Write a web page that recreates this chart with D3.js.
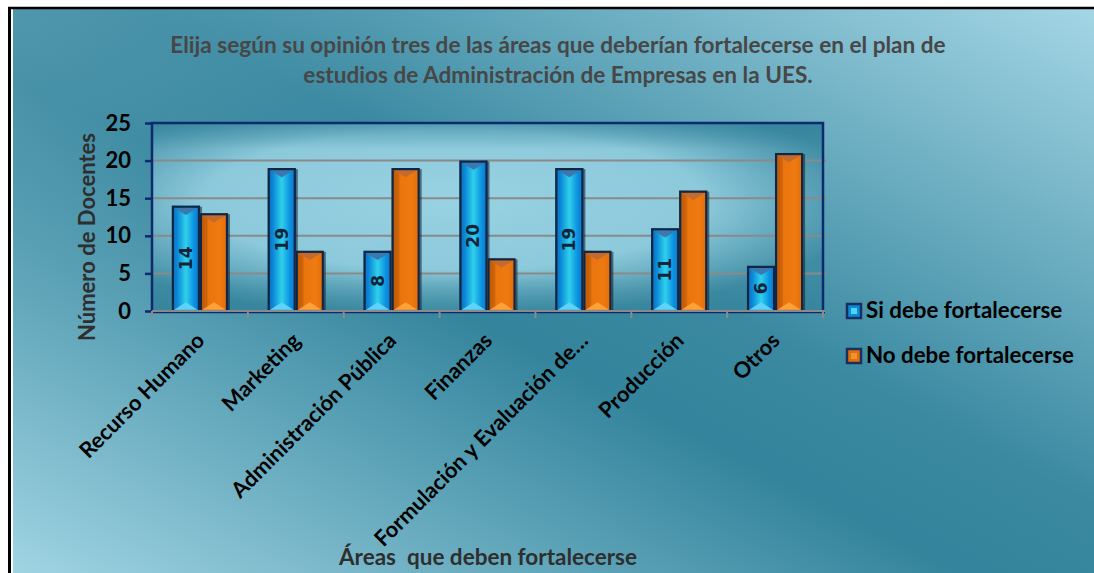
<!DOCTYPE html>
<html>
<head>
<meta charset="utf-8">
<script src="https://cdn.jsdelivr.net/npm/d3@7"></script>
<style>
  html, body { margin: 0; padding: 0; background: #fff; }
  svg { display: block; font-family: Lato, "Open Sans", sans-serif; font-weight: bold; }
</style>
</head>
<body>
<div id="chart"></div>
<script>
// Data
const categories = ["Recurso Humano", "Marketing", "Administración Pública", "Finanzas",
  "Formulación y Evaluación de…", "Producción", "Otros"];
const series = ["Si debe fortalecerse", "No debe fortalecerse"];
const siValues = [14, 19, 8, 20, 19, 11, 6];
const noValues = [13, 8, 19, 7, 8, 16, 21];
const yTicks = [0, 5, 10, 15, 20, 25];
const titleLines = ["Elija según su opinión tres de las áreas que deberían fortalecerse en el plan de",
  "estudios de Administración de Empresas en la UES."];
const yTitle = "Número de Docentes";
const xTitle = "Áreas  que deben fortalecerse";

const W = 1094, H = 573;
const margin = { top: 123, right: 271, bottom: 262, left: 152 };

const svg = d3.select("#chart").append("svg")
  .attr("width", W).attr("height", H);

const defs = svg.append("defs");

// background gradient: light top-right / bottom-left, darker diagonal band
const bg = defs.append("linearGradient").attr("id", "bg")
  .attr("x1", 0).attr("y1", 1).attr("x2", 1).attr("y2", 0);
bg.append("stop").attr("offset", 0).attr("stop-color", "#a0d4e3");
bg.append("stop").attr("offset", 0.44).attr("stop-color", "#33849c");
bg.append("stop").attr("offset", 0.56).attr("stop-color", "#3a89a1");
bg.append("stop").attr("offset", 1).attr("stop-color", "#a4d6e5");

// slight lightening towards the top-left corner
const bgTL = defs.append("radialGradient").attr("id", "bgTL")
  .attr("gradientUnits", "userSpaceOnUse")
  .attr("cx", 0).attr("cy", 0).attr("r", 380);
bgTL.append("stop").attr("offset", 0).attr("stop-color", "#6aa8bb").attr("stop-opacity", 0.5);
bgTL.append("stop").attr("offset", 1).attr("stop-color", "#6aa8bb").attr("stop-opacity", 0);

const pg = defs.append("radialGradient").attr("id", "plotbg")
  .attr("cx", "45%").attr("cy", "42%").attr("r", "62%")
  .attr("fx", "45%").attr("fy", "40%");
pg.append("stop").attr("offset", 0).attr("stop-color", "#98d2e2");
pg.append("stop").attr("offset", 0.6).attr("stop-color", "#8cc9db");
pg.append("stop").attr("offset", 1).attr("stop-color", "#3f8ca3");

const plotShade = defs.append("linearGradient").attr("id", "plotshade")
  .attr("x1", 0).attr("y1", 0).attr("x2", 0).attr("y2", 1);
plotShade.append("stop").attr("offset", 0).attr("stop-color", "#2f7f98").attr("stop-opacity", 0.55);
plotShade.append("stop").attr("offset", 0.14).attr("stop-color", "#2f7f98").attr("stop-opacity", 0);
plotShade.append("stop").attr("offset", 0.78).attr("stop-color", "#2f7f98").attr("stop-opacity", 0);
plotShade.append("stop").attr("offset", 1).attr("stop-color", "#2f7f98").attr("stop-opacity", 0.5);

function barGrad(id, stops) {
  const g = defs.append("linearGradient").attr("id", id)
    .attr("x1", 0).attr("y1", 0).attr("x2", 1).attr("y2", 0);
  stops.forEach(s => g.append("stop").attr("offset", s[0]).attr("stop-color", s[1]));
}
barGrad("gBlue", [[0, "#1766a8"], [0.18, "#0a86d8"], [0.5, "#2fd0ea"], [0.8, "#0a90e2"], [1, "#1a70b8"]]);
barGrad("gOrange", [[0, "#b85808"], [0.25, "#cf640a"], [0.3, "#ea740e"], [0.7, "#ef7a10"], [1, "#e06c0c"]]);

const colors = { "Si debe fortalecerse": "url(#gBlue)", "No debe fortalecerse": "url(#gOrange)" };
const topBevel = { "Si debe fortalecerse": "#3b78ad", "No debe fortalecerse": "#c26a30" };
const botBevel = { "Si debe fortalecerse": "#5fd2fa", "No debe fortalecerse": "#ffa23c" };

// page background and frame
svg.append("rect").attr("x", 13).attr("y", 9).attr("width", W - 13).attr("height", H - 9)
  .attr("fill", "url(#bg)");
svg.append("rect").attr("x", 13).attr("y", 9).attr("width", W - 13).attr("height", H - 9)
  .attr("fill", "url(#bgTL)");
svg.append("line").attr("x1", 9.5).attr("x2", 9.5).attr("y1", 7).attr("y2", H)
  .attr("stroke", "#000").attr("stroke-width", 3);
svg.append("line").attr("x1", 8).attr("x2", W).attr("y1", 8).attr("y2", 8)
  .attr("stroke", "#000").attr("stroke-width", 2.5);

const x0 = d3.scaleBand().domain(categories)
  .range([margin.left, W - margin.right]).paddingInner(0).paddingOuter(0);
const x1 = d3.scaleBand().domain(series)
  .range([0, x0.bandwidth()]).paddingInner(0).paddingOuter(0.71);
const y = d3.scaleLinear().domain([0, 25]).range([H - margin.bottom, margin.top]);

const left = margin.left, right = W - margin.right;

// plot area
svg.append("rect").attr("x", left).attr("y", y(25)).attr("width", right - left)
  .attr("height", y(0) - y(25)).attr("fill", "url(#plotbg)");
svg.append("rect").attr("x", left).attr("y", y(25)).attr("width", right - left)
  .attr("height", y(0) - y(25)).attr("fill", "url(#plotshade)");

// gridlines
svg.append("g")
  .selectAll("line").data(yTicks.filter(d => d > 0 && d < 25)).join("line")
  .attr("x1", left).attr("x2", right + 3)
  .attr("y1", d => y(d)).attr("y2", d => y(d))
  .attr("stroke", "#8a8a8a").attr("stroke-width", 2);

// bars
const groups = svg.append("g").selectAll("g").data(categories).join("g")
  .attr("transform", d => `translate(${x0(d)},0)`);

const barData = (c, i) => series.map(s => ({ s, v: s === series[0] ? siValues[i] : noValues[i] }));

groups.each(function (c, i) {
  const g = d3.select(this);
  barData(c, i).forEach(b => {
    const bx = x1(b.s), bw = x1.bandwidth(), by = y(b.v), bh = y(0) - y(b.v);
    // shadow
    g.append("rect").attr("x", bx + 2).attr("y", by + 1).attr("width", bw).attr("height", bh - 1)
      .attr("fill", "#0b1d33").attr("opacity", 0.55);
    g.append("rect").attr("x", bx).attr("y", by).attr("width", bw).attr("height", bh)
      .attr("fill", colors[b.s]);
    const bev = Math.min(bw / 2 - 2, bh / 2);
    g.append("path")
      .attr("d", `M${bx + 2},${by + 2}L${bx + bw - 2},${by + 2}L${bx + bw / 2},${by + 2 + bev * 0.6}Z`)
      .attr("fill", topBevel[b.s]);
    g.append("path")
      .attr("d", `M${bx + 2},${y(0) - 1}L${bx + bw - 2},${y(0) - 1}L${bx + bw / 2},${y(0) - 1 - bev * 0.65}Z`)
      .attr("fill", botBevel[b.s]);
    g.append("rect").attr("x", bx + 1).attr("y", by + 1).attr("width", bw - 2).attr("height", bh - 1)
      .attr("fill", "none").attr("stroke", "#0e2748").attr("stroke-width", 2.2);
    if (b.s === series[0]) {
      const cx = bx + bw / 2, cy = (by + y(0)) / 2;
      g.append("text")
        .attr("transform", `translate(${cx + 6},${cy}) rotate(-90)`)
        .attr("text-anchor", "middle")
        .attr("font-family", "'DejaVu Sans', sans-serif")
        .attr("font-size", 17).attr("fill", "#13243a")
        .text(b.v);
    }
  });
});

// plot frame: top, right (navy), y axis
svg.append("path")
  .attr("d", `M${left},${y(0)}V${y(25)}H${right}V${y(0)}`)
  .attr("fill", "none").attr("stroke", "#0c2a6e").attr("stroke-width", 2.5);

// y axis
const yAxis = svg.append("g").attr("transform", `translate(${left},0)`)
  .call(d3.axisLeft(y).tickValues(yTicks).tickSize(7).tickPadding(14));
yAxis.select(".domain").remove();
yAxis.selectAll(".tick line").attr("stroke", "#0c2a6e").attr("stroke-width", 2.5);
yAxis.selectAll(".tick text").attr("font-family", "Lato, sans-serif").attr("font-weight", "bold")
  .attr("font-size", 22).attr("fill", "#000");

// x axis
svg.append("line").attr("x1", left).attr("x2", right + 2).attr("y1", y(0) + 1.5).attr("y2", y(0) + 1.5)
  .attr("stroke", "#0c2a6e").attr("stroke-width", 1.5);
svg.append("line").attr("x1", left).attr("x2", right + 2).attr("y1", y(0)).attr("y2", y(0))
  .attr("stroke", "#8a8a8a").attr("stroke-width", 2);
svg.append("g").selectAll("line").data(categories.concat([null])).join("line")
  .attr("x1", (d, i) => left + i * x0.step()).attr("x2", (d, i) => left + i * x0.step())
  .attr("y1", y(0)).attr("y2", y(0) + 7)
  .attr("stroke", "#8a8a8a").attr("stroke-width", 2);

svg.append("g").selectAll("text").data(categories).join("text")
  .attr("transform", d => `translate(${x0(d) + x0.bandwidth() / 2 + 6},${y(0) + 31}) rotate(-45)`)
  .attr("text-anchor", "end")
  .attr("font-size", 21.8).attr("fill", "#000")
  .text(d => d);

// titles
svg.append("g").selectAll("text").data(titleLines).join("text")
  .attr("x", 558).attr("y", (d, i) => 53 + i * 30)
  .attr("text-anchor", "middle").attr("font-size", 22.6).attr("fill", "#474747")
  .text(d => d);

svg.append("text")
  .attr("transform", `translate(95,${(y(0) + y(25)) / 2 + 20}) rotate(-90)`)
  .attr("text-anchor", "middle").attr("font-size", 22).attr("fill", "#2e2e2e")
  .text(yTitle);

svg.append("text").attr("x", 488).attr("y", 565)
  .attr("text-anchor", "middle").attr("font-size", 22.5).attr("fill", "#2e2e2e")
  .style("white-space", "pre")
  .text(xTitle);

// legend
const legend = svg.append("g").selectAll("g").data(series).join("g")
  .attr("transform", (d, i) => `translate(846,${303 + i * 45})`);
legend.append("rect").attr("x", 1).attr("y", 1).attr("width", 14).attr("height", 14)
  .attr("fill", (d, i) => i === 0 ? "#0c8ad8" : "#e0700e")
  .attr("stroke", "#1a2f5e").attr("stroke-width", 2.5);
legend.append("rect").attr("x", 5).attr("y", 5).attr("width", 6).attr("height", 6)
  .attr("fill", (d, i) => i === 0 ? "#48d6f4" : "#f5912c");
legend.append("text").attr("x", 20).attr("y", 15)
  .attr("font-size", 22.3).attr("fill", "#000")
  .text(d => d);
</script>
</body>
</html>
